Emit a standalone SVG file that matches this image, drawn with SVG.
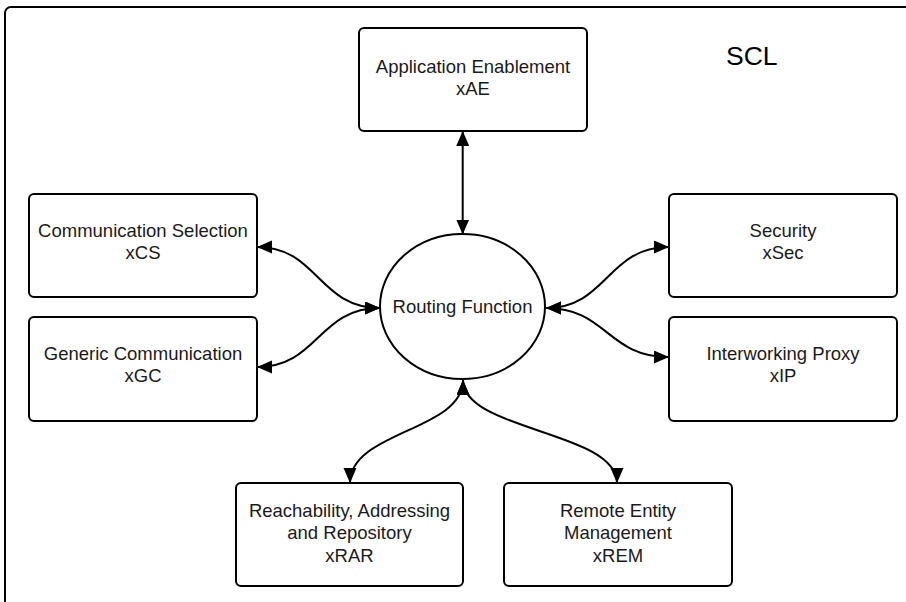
<svg xmlns="http://www.w3.org/2000/svg" width="906" height="602" viewBox="0 0 906 602">
  <style>
    .box { fill: #ffffff; stroke: #000000; stroke-width: 2; }
    .lbl { font-family: "Liberation Sans", Arial, sans-serif; font-size: 18.5px; fill: #1a1a1a; text-anchor: middle; }
    .title { font-family: "Liberation Sans", Arial, sans-serif; font-size: 26.5px; fill: #000000; }
    .conn { fill: none; stroke: #000000; stroke-width: 2; marker-start: url(#head); marker-end: url(#head); }
  </style>
  <defs>
    <marker id="head" markerUnits="userSpaceOnUse" markerWidth="16" markerHeight="14" refX="15" refY="6.5" orient="auto-start-reverse">
      <path d="M0,0 L15,6.5 L0,13 Z" fill="#000000"/>
    </marker>
  </defs>

  <rect width="906" height="602" fill="#ffffff"/>

  <!-- SCL container -->
  <g id="scl">
    <rect class="box" x="5" y="7" width="930" height="630" rx="6"/>
    <text class="title" x="726" y="65">SCL</text>
  </g>

  <!-- connectors -->
  <g id="connectors">
    <path class="conn" d="M462.7 131 L462.7 234.5"/>
    <path class="conn" d="M380 308 C318 308 318 247 257 247"/>
    <path class="conn" d="M380 308 C318 308 318 367 257 367"/>
    <path class="conn" d="M546 308 C607 308 607 247 669 247"/>
    <path class="conn" d="M546 308 C607 308 607 357 669 357"/>
    <path class="conn" d="M463 380 C463 431 350 431 350 483"/>
    <path class="conn" d="M463 380 C463 431 617 431 617 483"/>
  </g>

  <g id="xAE">
    <rect class="box" x="359" y="28" width="228" height="103" rx="5"/>
    <text class="lbl" x="473" y="73">Application Enablement</text>
    <text class="lbl" x="473" y="95">xAE</text>
  </g>

  <g id="routing">
    <ellipse class="box" cx="462.5" cy="306.5" rx="82.5" ry="72.5"/>
    <text class="lbl" x="462.5" y="313">Routing Function</text>
  </g>

  <g id="xCS">
    <rect class="box" x="29" y="194" width="228" height="103" rx="5"/>
    <text class="lbl" x="143" y="237">Communication Selection</text>
    <text class="lbl" x="143" y="259">xCS</text>
  </g>

  <g id="xGC">
    <rect class="box" x="29" y="317" width="228" height="104" rx="5"/>
    <text class="lbl" x="143" y="360">Generic Communication</text>
    <text class="lbl" x="143" y="382">xGC</text>
  </g>

  <g id="xSec">
    <rect class="box" x="669" y="194" width="228" height="103" rx="5"/>
    <text class="lbl" x="783" y="237">Security</text>
    <text class="lbl" x="783" y="259">xSec</text>
  </g>

  <g id="xIP">
    <rect class="box" x="669" y="317" width="228" height="104" rx="5"/>
    <text class="lbl" x="783" y="360">Interworking Proxy</text>
    <text class="lbl" x="783" y="382">xIP</text>
  </g>

  <g id="xRAR">
    <rect class="box" x="236" y="483" width="227" height="103" rx="5"/>
    <text class="lbl" x="349.5" y="517">Reachability, Addressing</text>
    <text class="lbl" x="349.5" y="539">and Repository</text>
    <text class="lbl" x="349.5" y="562">xRAR</text>
  </g>

  <g id="xREM">
    <rect class="box" x="504" y="483" width="228" height="103" rx="5"/>
    <text class="lbl" x="618" y="517">Remote Entity</text>
    <text class="lbl" x="618" y="539">Management</text>
    <text class="lbl" x="618" y="562">xREM</text>
  </g>
</svg>
